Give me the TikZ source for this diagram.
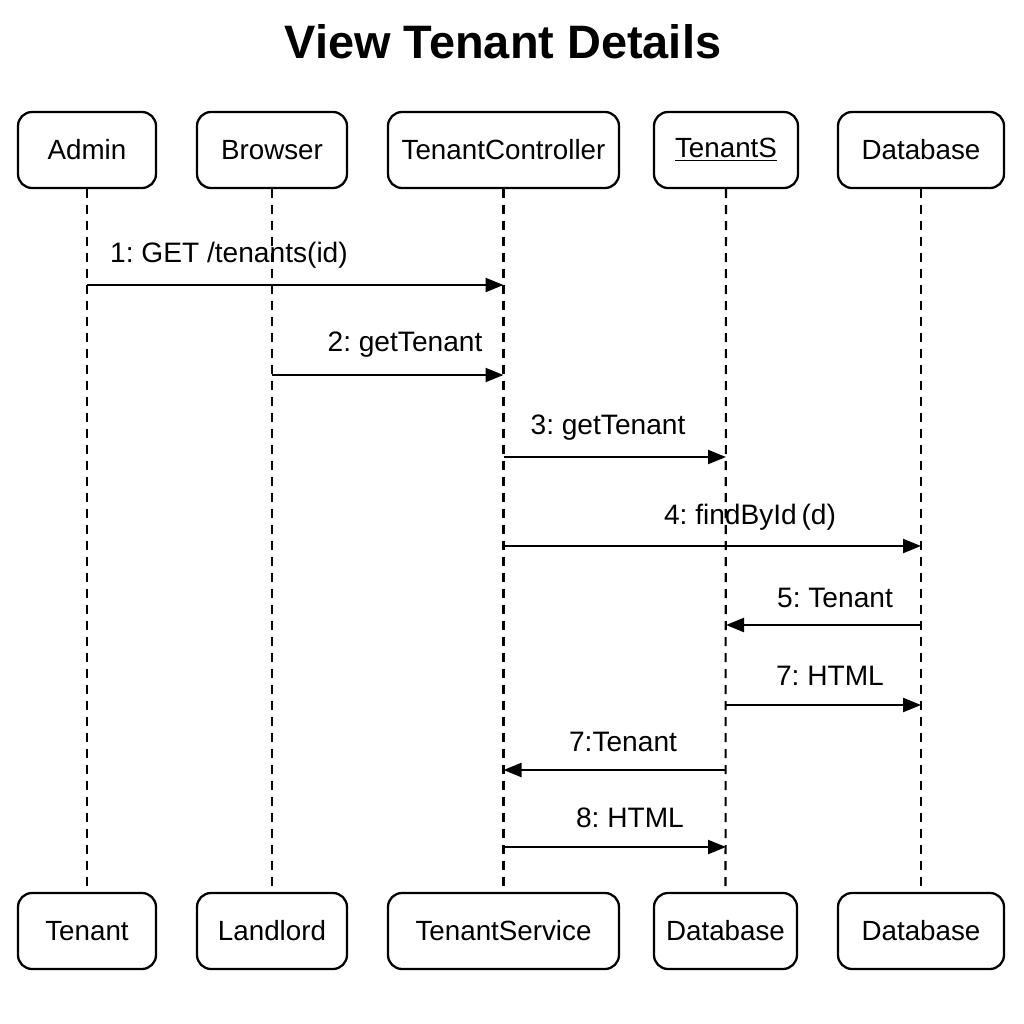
\documentclass[tikz,border=0pt]{standalone}
\usepackage{fontspec}
\setmainfont{Liberation Sans}
\usetikzlibrary{arrows.meta}
\frenchspacing

\begin{document}
\begin{tikzpicture}[
    lifebox/.style={draw, line width=1.3pt, rounded corners=8pt, minimum height=1.52cm,
        font=\fontsize{15.8}{18}\selectfont},
    lifeline/.style={line width=1.2pt, dash pattern=on 0.18cm off 0.14cm},
    msg/.style={line width=1.3pt, -{Triangle[length=0.36cm,width=0.28cm]}},
    msglabel/.style={font=\fontsize{16}{19}\selectfont, inner sep=0pt}
]
    \useasboundingbox (0,0) rectangle (20.48,-20.48);

    % Title
    \node[font=\fontsize{26.7}{30}\selectfont\bfseries] (title) at (10.06,-0.84) {View Tenant Details};

    % Top participants
    \node[lifebox, minimum width=2.76cm] (admin) at (1.74,-3.0) {Admin};
    \node[lifebox, minimum width=3.0cm] (browser) at (5.44,-3.0) {Browser};
    \node[lifebox, minimum width=4.62cm] (ctrl) at (10.07,-3.0) {TenantController};
    \node[lifebox, minimum width=2.88cm] (svc) at (14.52,-3.0) {\underline{TenantS}};
    \node[lifebox, minimum width=3.32cm] (db) at (18.42,-3.0) {Database};

    % Bottom participants
    \node[lifebox, minimum width=2.76cm] (tenant) at (1.74,-18.62) {Tenant};
    \node[lifebox, minimum width=3.0cm] (landlord) at (5.44,-18.62) {Landlord};
    \node[lifebox, minimum width=4.62cm] (tsvc) at (10.07,-18.62) {TenantService};
    \node[lifebox, minimum width=2.86cm] (dbb) at (14.51,-18.62) {Database};
    \node[lifebox, minimum width=3.32cm] (dbc) at (18.42,-18.62) {Database};

    % Lifelines
    \draw[lifeline] (admin) -- (tenant);
    \draw[lifeline] (browser) -- (landlord);
    \draw[lifeline] (ctrl) -- (tsvc);
    \draw[lifeline] (svc) -- (dbb);
    \draw[lifeline] (db) -- (dbc);

    % 1: GET
    \coordinate (m1a) at (1.74,-5.7);
    \coordinate (m1b) at (10.07,-5.7);
    \draw[msg] (m1a) -- (m1b);
    \node[msglabel] (l1) at (4.58,-5.1) {1: GET /tenants(id)};

    % 2: getTenant
    \coordinate (m2a) at (5.44,-7.5);
    \coordinate (m2b) at (10.07,-7.5);
    \draw[msg] (m2a) -- (m2b);
    \node[msglabel] (l2) at (8.1,-6.9) {2: getTenant};

    % 3: getTenant
    \coordinate (m3a) at (10.07,-9.14);
    \coordinate (m3b) at (14.52,-9.14);
    \draw[msg] (m3a) -- (m3b);
    \node[msglabel] (l3) at (12.16,-8.56) {3: getTenant};

    % 4: findById
    \coordinate (m4a) at (10.07,-10.92);
    \coordinate (m4b) at (18.42,-10.92);
    \draw[msg] (m4a) -- (m4b);
    \node[msglabel] (l4) at (15.0,-10.34) {4: findById\,(d)};

    % 5: Tenant
    \coordinate (m5a) at (18.42,-12.5);
    \coordinate (m5b) at (14.52,-12.5);
    \draw[msg] (m5a) -- (m5b);
    \node[msglabel] (l5) at (16.7,-11.96) {5: Tenant};

    % 7: HTML
    \coordinate (m6a) at (14.52,-14.1);
    \coordinate (m6b) at (18.42,-14.1);
    \draw[msg] (m6a) -- (m6b);
    \node[msglabel] (l6) at (16.6,-13.52) {7: HTML};

    % 7:Tenant
    \coordinate (m7a) at (14.52,-15.4);
    \coordinate (m7b) at (10.07,-15.4);
    \draw[msg] (m7a) -- (m7b);
    \node[msglabel] (l7) at (12.46,-14.84) {7:Tenant};

    % 8: HTML
    \coordinate (m8a) at (10.07,-16.94);
    \coordinate (m8b) at (14.52,-16.94);
    \draw[msg] (m8a) -- (m8b);
    \node[msglabel] (l8) at (12.6,-16.36) {8: HTML};
\end{tikzpicture}
\end{document}
